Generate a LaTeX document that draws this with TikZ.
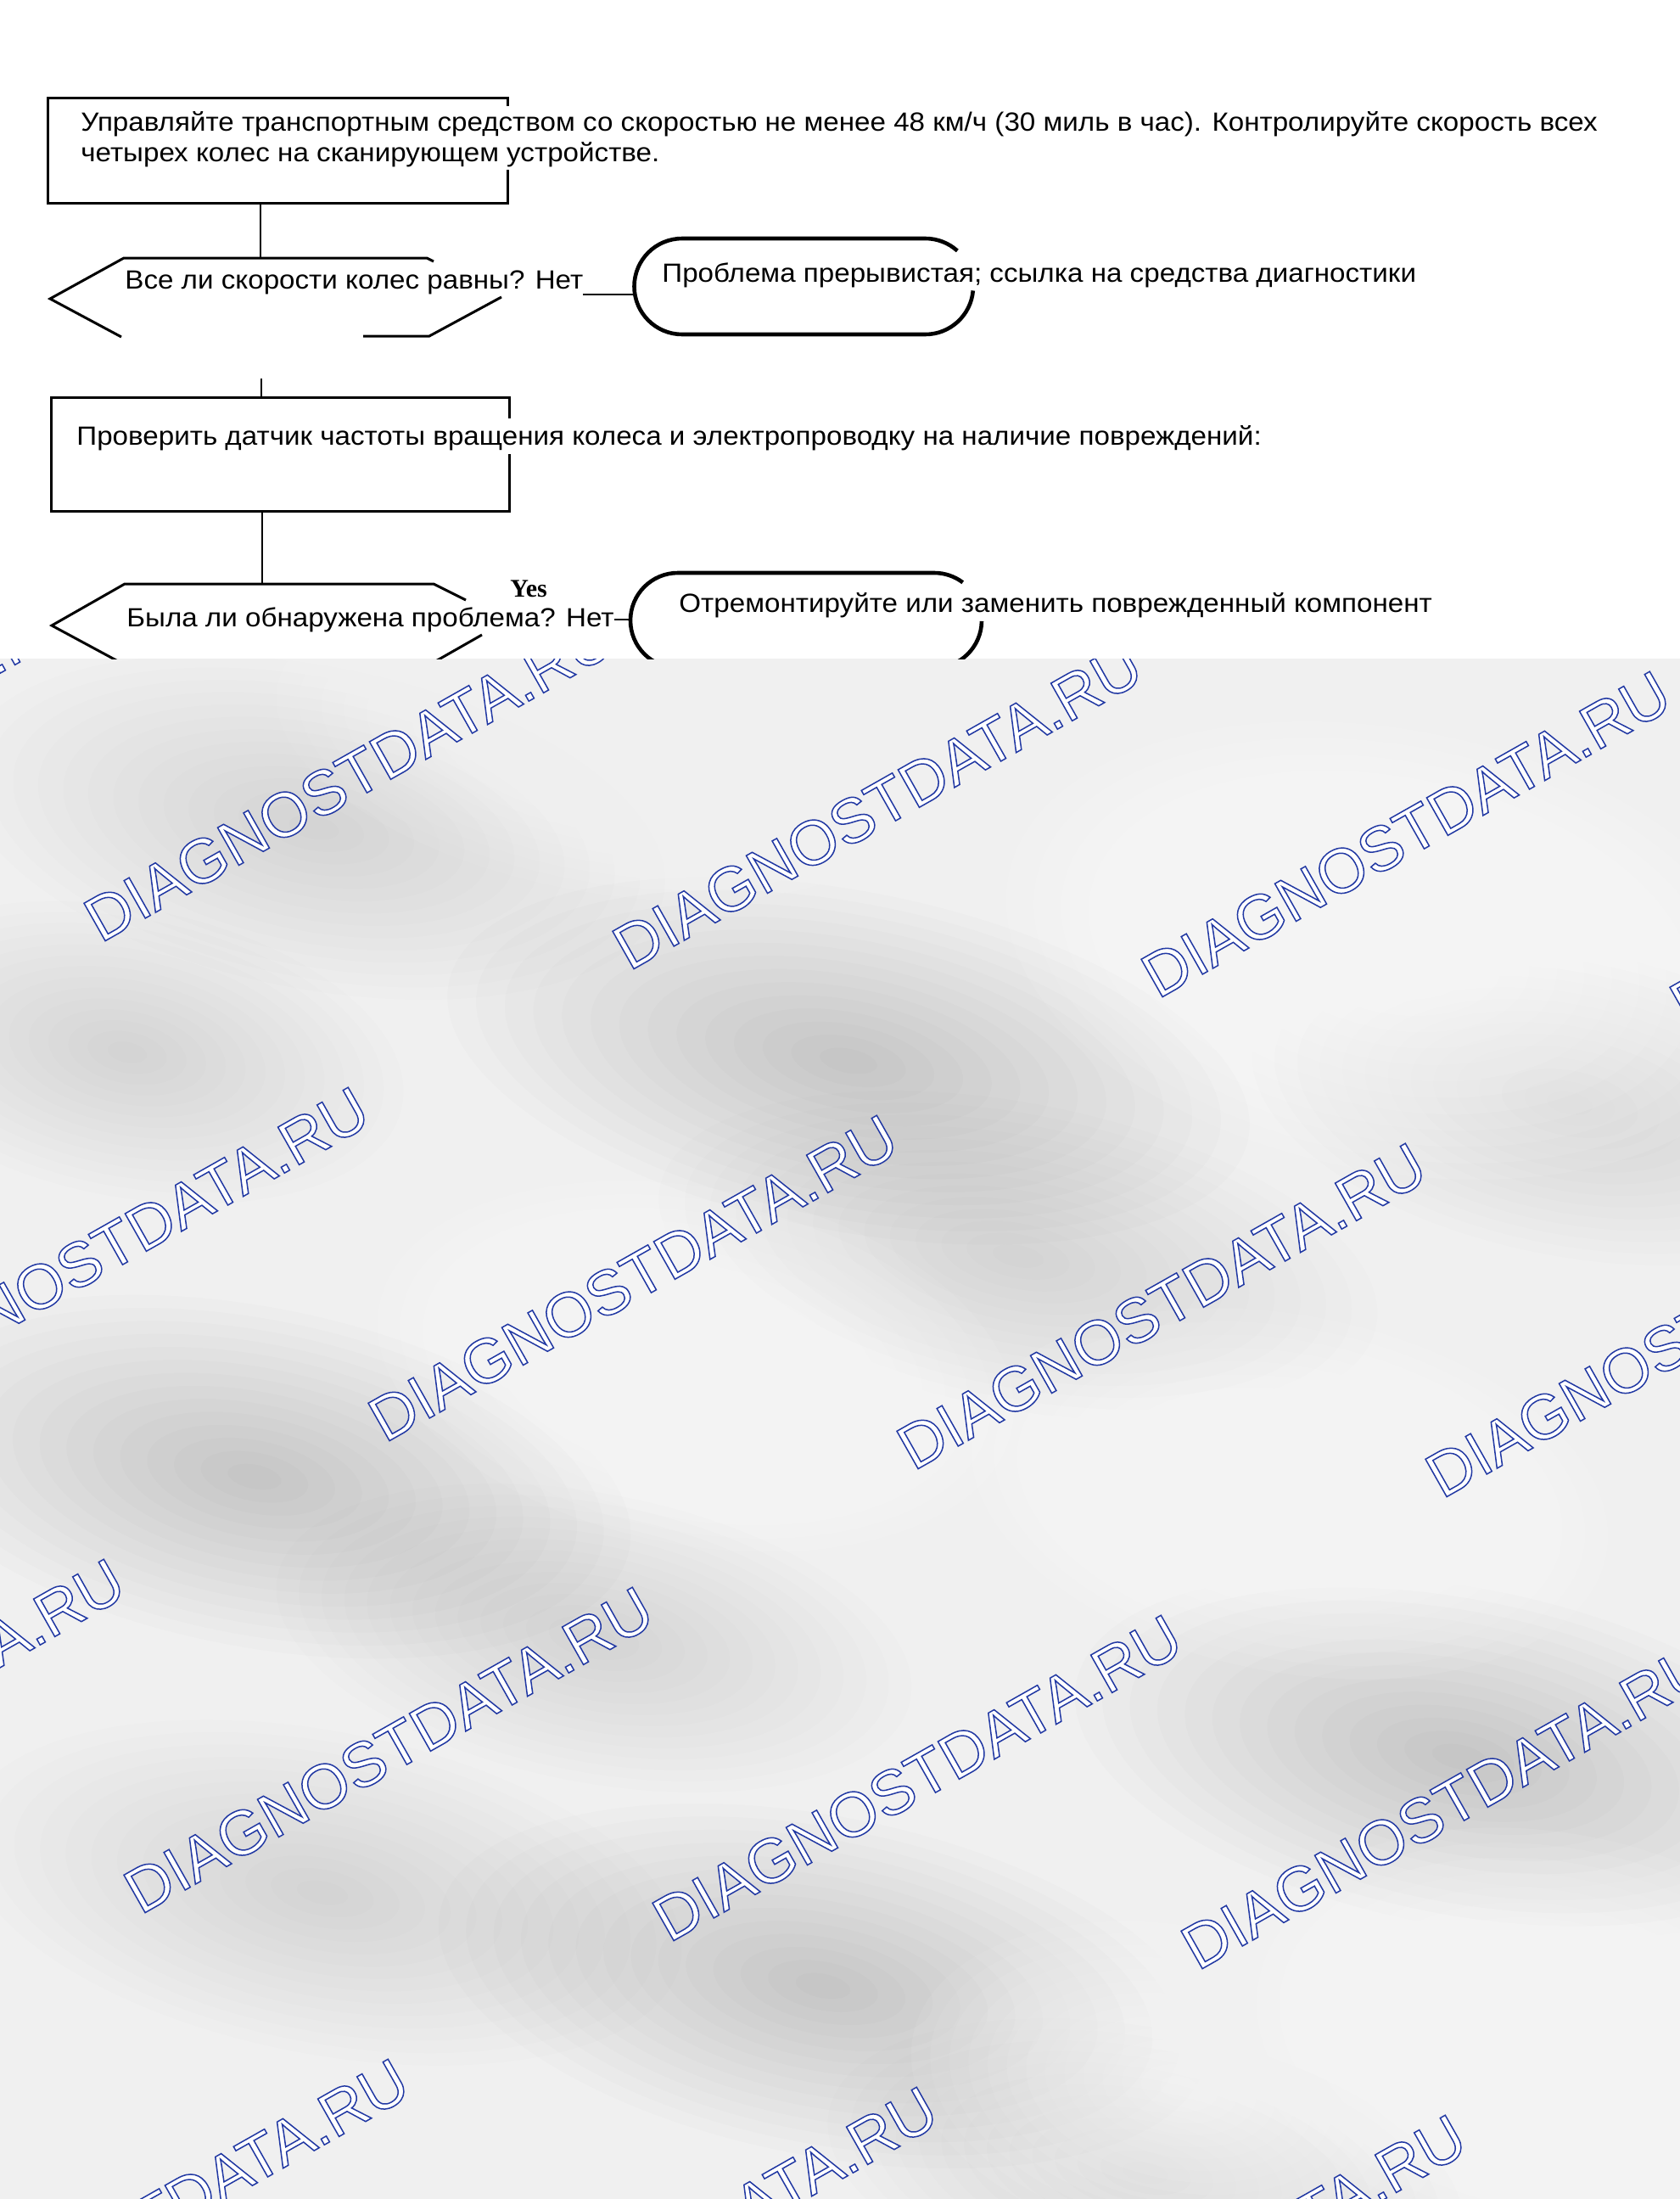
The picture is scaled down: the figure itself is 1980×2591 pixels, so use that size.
\documentclass[tikz,border=0pt]{standalone}
\usepackage{fontspec}
\setmainfont[FakeStretch=1.07]{Liberation Sans}
\newfontfamily\serifyes{Liberation Serif}
\newfontfamily\wmfont{Liberation Sans}
\definecolor{bgbase}{HTML}{F0F0F0}
\newcommand{\wmtext}{\special{pdf:literal direct 2 Tr 0.75 w 0.13 0.22 0.64 RG 1 g}DIAGNOSTDATA.RU\special{pdf:literal direct 0 Tr 0 g 0 G}}
% soft cloud: x, y, rx, ry, opacity per layer, colour
\newcommand{\softcloud}[6]{%
  \foreach \k in {1,...,14}{%
    \fill[#6, opacity=#5, rotate around={-11:(#1,#2)}] (#1,#2) ellipse ({#3*\k/14} and {#4*\k/14});%
  }}
\begin{document}
\begin{tikzpicture}[x=0.5pt,y=-0.5pt,
  shp/.style={line width=1.5pt, line join=miter},
  termline/.style={line width=2.3pt},
  conn/.style={line width=1pt},
  txt/.style={inner sep=0pt, anchor=base west, font=\fontsize{15.5pt}{18pt}\selectfont},
  wm/.style={inner sep=0pt, rotate=29.5, font=\wmfont\fontsize{37pt}{37pt}\selectfont}]
\useasboundingbox (0,0) rectangle (1980,2591);
\fill[white] (0,0) rectangle (1980,2591);

% ---------- watermark background ----------
\begin{scope}
\clip (0,776) rectangle (1980,2591);
\fill[bgbase] (0,776) rectangle (1980,2591);
\softcloud{370}{975}{420}{190}{0.008}{black}
\softcloud{1000}{1250}{480}{200}{0.012}{black}
\softcloud{1200}{1480}{430}{180}{0.009}{black}
\softcloud{300}{1740}{450}{200}{0.011}{black}
\softcloud{700}{1930}{380}{170}{0.006}{black}
\softcloud{380}{2230}{430}{190}{0.009}{black}
\softcloud{970}{2340}{460}{200}{0.012}{black}
\softcloud{1720}{2070}{460}{200}{0.012}{black}
\softcloud{1850}{1300}{380}{180}{0.006}{black}
\softcloud{150}{1240}{330}{170}{0.006}{black}
\softcloud{1350}{2560}{380}{170}{0.006}{black}
\softcloud{1640}{1120}{460}{260}{0.09}{white}
\softcloud{820}{1610}{380}{210}{0.08}{white}
\softcloud{1520}{1760}{380}{210}{0.08}{white}
\softcloud{1830}{2400}{380}{240}{0.08}{white}
\softcloud{1390}{2460}{320}{190}{0.07}{white}
\softcloud{700}{880}{380}{170}{0.06}{white}
\foreach \j in {0,...,3} {
  \foreach \i in {-1,...,4} {
    \node[wm] (wm\i\j) at ({411+623*\i-288*\j},{917+33*\i+556*\j}) {\wmtext};
  }
}
\end{scope}

% ---------- flowchart ----------
\begin{scope}
\clip (0,0) rectangle (1980,776);
% box 1
\draw[shp] (598,125) -- (598,115) -- (56,115) -- (56,239) -- (598,239) -- (598,200);
\node[txt] (b1a) at (95,154) {Управляйте транспортным средством со скоростью не менее 48 км/ч (30 миль в час). Контролируйте скорость всех};
\node[txt] (b1b) at (95,190) {четырех колес на сканирующем устройстве.};
% connector box1 -> decision 1
\coordinate (b1s) at (307,239);
\coordinate (h1n) at (307,304);
\draw[conn] (b1s) -- (h1n);
% decision 1
\draw[shp] (511,308) -- (503,304) -- (146,304) -- (59,352) -- (143,397);
\draw[shp] (591,350) -- (506,396) -- (428,396);
\node[txt] (h1t) at (147,340) {Все ли скорости колес равны? Нет};
\coordinate (h1e) at (687,347);
\coordinate (t1w) at (749,347);
\draw[conn] (h1e) -- (t1w);
% terminator 1
\draw[termline] ([shift={(5:56.5)}]1090.5,337.5) arc[start angle=5,end angle=90,radius=56.5] -- (804,394) arc[start angle=90,end angle=270,radius=56.5] -- (1090.5,281) arc[start angle=270,end angle=312,radius=56.5];
\node[txt] (t1t) at (780,332) {Проблема прерывистая; ссылка на средства диагностики};
% connector decision 1 -> box 3
\coordinate (h1s) at (308,396);
\coordinate (c2a) at (308,446);
\coordinate (b3n) at (308,468);
\draw[conn] (c2a) -- (b3n);
% box 3
\draw[shp] (600,493) -- (600,468) -- (60,468) -- (60,602) -- (600,602) -- (600,535);
\node[txt] (b3t) at (90,524) {Проверить датчик частоты вращения колеса и электропроводку на наличие повреждений:};
% connector box3 -> decision 2
\coordinate (b3s) at (309,602);
\coordinate (h2n) at (309,688);
\draw[conn] (b3s) -- (h2n);
% decision 2
\draw[shp] (549,707) -- (511,688) -- (147,688) -- (61,737) -- (150,785);
\draw[shp] (568,748) -- (503,785);
\node[txt] (h2t) at (149,738) {Была ли обнаружена проблема? Нет};
\node[inner sep=0pt, anchor=base west, font=\serifyes\bfseries\fontsize{15pt}{15pt}\selectfont] (yes) at (601,703) {Yes};
\coordinate (h2e) at (724,730);
\coordinate (t2w) at (744,730);
\draw[conn] (h2e) -- (t2w);
% terminator 2
\draw[termline] ([shift={(1:56)}]1101,731) arc[start angle=1,end angle=90,radius=56] -- (799,787) arc[start angle=90,end angle=270,radius=56] -- (1101,675) arc[start angle=270,end angle=307,radius=56];
\node[txt] (t2t) at (800,721) {Отремонтируйте или заменить поврежденный компонент};
\end{scope}
\end{tikzpicture}
\end{document}
